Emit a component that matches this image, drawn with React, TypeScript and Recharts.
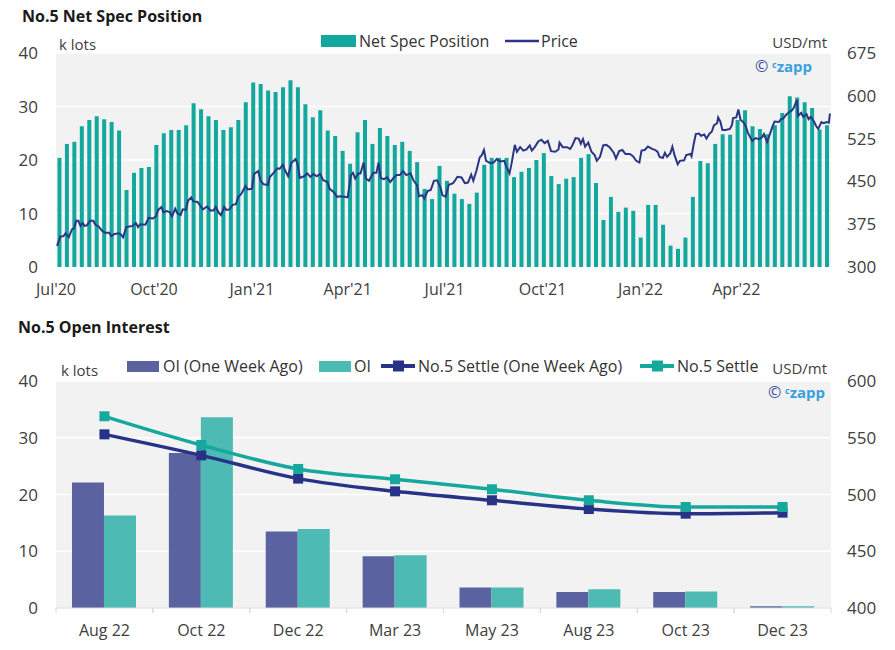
import { ComposedChart, Bar, Line, XAxis, YAxis, CartesianGrid } from "recharts"

// ---- No.5 Net Spec Position (weekly bars, k lots) ----
const netSpecPosition = [
  20.4, 23.0, 23.4, 26.3, 27.5, 28.2, 27.6, 27.1, 25.5, 14.4,
  17.6, 18.5, 18.7, 22.8, 25.0, 25.6, 25.6, 26.5, 30.6, 29.5,
  28.2, 27.5, 25.6, 26.1, 27.5, 30.8, 34.5, 34.2, 33.0, 32.7,
  33.6, 34.9, 33.6, 30.4, 28.0, 29.3, 25.5, 24.5, 21.7, 19.3,
  25.2, 27.5, 23.0, 26.0, 24.5, 22.8, 23.4, 21.7, 19.6, 14.6,
  12.7, 18.9, 16.1, 13.7, 12.7, 11.8, 13.9, 19.1, 20.4, 20.4,
  20.4, 16.8, 17.8, 18.5, 20.0, 21.3, 17.0, 15.5, 16.5, 16.8,
  20.4, 21.1, 15.7, 8.8, 13.1, 10.3, 11.1, 10.5, 5.5, 11.6,
  11.6, 7.9, 4.0, 3.4, 5.5, 13.1, 19.8, 19.4, 23.0, 24.8,
  24.7, 27.5, 29.3, 26.3, 25.8, 24.8, 26.5, 28.8, 31.9, 31.7,
  30.8, 29.7, 25.7, 26.5,
]
const firstReportDay = 3 // days after 1 Jul 2020

// price, days after 1 Jul 2020
const priceDays = [
  1, 4, 7, 9, 12, 15, 17, 19, 21, 23, 25, 27, 29, 32, 35, 37, 40, 43, 46, 50,
  52, 55, 59, 61, 63, 66, 69, 72, 75, 77, 79, 84, 87, 91, 94, 96, 99, 101, 104, 107,
  109, 112, 114, 117, 119, 122, 124, 127, 129, 133, 136, 138, 142, 145, 148, 150, 153, 155, 158, 160,
  163, 166, 169, 171, 174, 178, 180, 184, 186, 190, 192, 195, 199, 201, 204, 208, 210, 213, 215, 218,
  221, 225, 227, 229, 233, 236, 239, 242, 245, 248, 251, 255, 257, 261, 264, 267, 271, 274, 277, 279,
  281, 284, 286, 289, 291, 294, 298, 301, 303, 305, 308, 311, 314, 317, 320, 323, 326, 329, 333, 336,
  339, 341, 344, 346, 349, 352, 355, 358, 361, 363, 366, 369, 373, 375, 377, 381, 384, 387, 390, 392,
  395, 398, 400, 402, 404, 408, 411, 414, 417, 421, 423, 426, 428, 431, 433, 436, 439, 442, 445, 447,
  450, 453, 456, 459, 462, 465, 469, 472, 473, 476, 480, 483, 485, 488, 491, 493, 495, 497, 500, 503,
  506, 508, 511, 514, 517, 520, 524, 526, 529, 532, 535, 539, 542, 545, 548, 550, 553, 556, 560, 563,
  565, 567, 570, 572, 574, 577, 579, 581, 584, 586, 590, 592, 596, 597, 599, 601, 604, 606, 609, 611,
  614, 616, 618, 621, 622, 624, 626, 629, 633, 635, 636, 639, 641, 643, 646, 648, 650, 654, 657, 660,
  663, 665, 668, 671, 673, 675, 679, 681, 683, 686, 689, 691, 693, 696, 697, 700, 702, 705, 707, 709,
  712, 714, 716, 719, 721, 724, 726, 727,
]
const priceUsd = [
  337, 353, 354, 359, 352, 366, 368, 381, 381, 372, 377, 372, 373, 381, 381, 374, 371, 364, 360, 360,
  354, 358, 359, 357, 352, 370, 371, 372, 377, 370, 375, 374, 386, 385, 389, 400, 405, 396, 398, 396,
  389, 402, 394, 391, 401, 400, 416, 422, 415, 414, 406, 401, 406, 399, 399, 405, 395, 391, 405, 400,
  401, 409, 410, 422, 428, 442, 436, 437, 463, 468, 452, 445, 444, 458, 464, 473, 472, 479, 470, 459,
  482, 489, 480, 456, 459, 464, 458, 463, 459, 463, 452, 449, 437, 431, 423, 424, 423, 422, 461, 465,
  455, 464, 464, 483, 455, 451, 465, 465, 483, 456, 454, 457, 449, 456, 461, 461, 468, 461, 464, 451,
  444, 424, 426, 420, 433, 435, 451, 452, 440, 426, 423, 444, 447, 452, 458, 457, 447, 448, 462, 451,
  469, 492, 496, 505, 486, 482, 483, 489, 485, 486, 476, 464, 482, 514, 502, 510, 504, 506, 513, 504,
  511, 520, 523, 517, 521, 503, 502, 506, 518, 510, 510, 507, 513, 526, 525, 516, 524, 511, 518, 502,
  496, 486, 493, 513, 514, 510, 500, 490, 503, 505, 498, 498, 494, 486, 483, 504, 505, 511, 507, 505,
  502, 493, 491, 500, 493, 499, 511, 496, 480, 486, 487, 496, 498, 494, 515, 533, 534, 530, 532, 525,
  534, 537, 548, 552, 562, 555, 540, 540, 542, 549, 561, 562, 576, 558, 553, 546, 535, 521, 526, 524,
  527, 533, 519, 535, 546, 555, 554, 559, 560, 567, 572, 574, 579, 593, 565, 570, 563, 568, 559, 563,
  555, 547, 542, 554, 552, 554, 553, 569,
]

const quarterDays = [0, 92, 184, 274, 365, 457, 549, 639]
const quarterLabels = ["Jul'20", "Oct'20", "Jan'21", "Apr'21", "Jul'21", "Oct'21", "Jan'22", "Apr'22"]

// ---- No.5 Open Interest ----
const contracts = ["Aug 22", "Oct 22", "Dec 22", "Mar 23", "May 23", "Aug 23", "Oct 23", "Dec 23"]
const oiWeekAgo = [22.1, 27.3, 13.5, 9.1, 3.6, 2.8, 2.8, 0.3]
const oiNow = [16.3, 33.6, 13.9, 9.3, 3.6, 3.3, 2.9, 0.3]
const settleWeekAgo = [553, 534.5, 514, 502.8, 494.9, 487.2, 483.1, 484]
const settleNow = [568.9, 543.6, 522.5, 513.4, 504.6, 494.9, 489, 489]

const TEAL = "#13a89e"
const NAVY = "#2b3584"
const OI_OLD = "#5a63a0"
const OI_NEW = "#4dbbb3"
const SETTLE_OLD = "#283387"
const SETTLE_NEW = "#16a89d"
const TICK = "#404040"

const netSpecData = netSpecPosition.map((v, i) => ({ day: firstReportDay + i * 7, net: v }))
const priceData = priceDays.map((d, i) => ({ day: d, price: priceUsd[i] }))
const oiData = contracts.map((c, i) => ({
  contract: c,
  oiWeekAgo: oiWeekAgo[i],
  oi: oiNow[i],
  settleWeekAgo: settleWeekAgo[i],
  settle: settleNow[i],
}))

function ContractTick(props: any) {
  const { x, y, payload } = props
  const half = payload?.offset || 48.5
  return (
    <g>
      <line x1={x - half} x2={x - half} y1={y} y2={y + 5} stroke="#d9d9d9" />
      <line x1={x + half} x2={x + half} y1={y} y2={y + 5} stroke="#d9d9d9" />
      <text x={x} y={y + 28} textAnchor="middle" fill={TICK} fontSize={16}>
        {payload.value}
      </text>
    </g>
  )
}

const squareDot = (color: string) => (p: any) => {
  if (p.cx == null || p.cy == null) return <g key={p.index} />
  return <rect key={p.index} x={p.cx - 5} y={p.cy - 5} width={10} height={10} fill={color} />
}

function Czapp({ x, y }: { x: number; y: number }) {
  return (
    <g>
      <text x={x} y={y} fontSize={16} fill="#3b4aa0">©</text>
      <text x={x + 17} y={y} fontWeight={700} fill="#3a9fe0">
        <tspan fontSize={9} dy={-4}>c</tspan>
        <tspan fontSize={15} dy={4}>zapp</tspan>
      </text>
    </g>
  )
}

function LineIcon({ x, y, color, square }: { x: number; y: number; color: string; square?: boolean }) {
  return (
    <g>
      <line x1={x} x2={x + 34} y1={y} y2={y} stroke={color} strokeWidth={square ? 4 : 2.5} />
      {square && <rect x={x + 12} y={y - 5.5} width={11} height={11} fill={color} />}
    </g>
  )
}

export default function App() {
  return (
    <div
      style={{
        position: "absolute",
        left: 0,
        top: 0,
        width: 895,
        height: 650,
        background: "#fff",
        fontFamily: "'Open Sans', sans-serif",
      }}
    >
      <div style={{ position: "absolute", left: 0, top: 0 }}>
        <ComposedChart width={895} height={300} data={netSpecData} margin={{ top: 53, right: 0, bottom: 0, left: 0 }}>
          <CartesianGrid xAxisId="t" yAxisId="lots" vertical={false} stroke="#ffffff" strokeWidth={1.5} fill="#f2f2f2" />
          {/* hidden twin axis so the daily price points don't shrink the weekly bar band */}
          <XAxis xAxisId="p" type="number" dataKey="day" domain={[0, 728]} allowDataOverflow hide height={0} />
          <XAxis
            xAxisId="t"
            type="number"
            dataKey="day"
            domain={[0, 728]}
            allowDataOverflow
            ticks={quarterDays}
            interval={0}
            tickFormatter={(d: number) => quarterLabels[quarterDays.indexOf(d)] ?? ""}
            axisLine={false}
            tickLine={false}
            tickSize={0}
            tickMargin={17}
            height={33}
            tick={{ fill: TICK, fontSize: 16 }}
          />
          <YAxis
            yAxisId="lots"
            domain={[0, 40]}
            ticks={[0, 10, 20, 30, 40]}
            width={56}
            axisLine={false}
            tickLine={false}
            tickSize={0}
            tickMargin={18}
            tick={{ fill: TICK, fontSize: 17 }}
          />
          <YAxis
            yAxisId="usd"
            orientation="right"
            domain={[300, 675]}
            ticks={[300, 375, 450, 525, 600, 675]}
            width={64}
            axisLine={false}
            tickLine={false}
            tickSize={0}
            tickMargin={16}
            tick={{ fill: TICK, fontSize: 17, textAnchor: "start" }}
          />
          <Bar xAxisId="t" yAxisId="lots" dataKey="net" fill={TEAL} barSize={4} isAnimationActive={false} />
          <Line
            xAxisId="p"
            yAxisId="usd"
            data={priceData}
            dataKey="price"
            type="linear"
            stroke={NAVY}
            strokeWidth={2}
            dot={false}
            isAnimationActive={false}
          />
        </ComposedChart>
      </div>

      <div style={{ position: "absolute", left: 0, top: 300 }}>
        <ComposedChart
          width={895}
          height={350}
          data={oiData}
          margin={{ top: 81, right: 0, bottom: 0, left: 0 }}
          barCategoryGap="16.5%"
          barGap={0}
        >
          <CartesianGrid yAxisId="lots" vertical={false} stroke="#ffffff" strokeWidth={1.5} fill="#f2f2f2" />
          <XAxis
            dataKey="contract"
            axisLine={{ stroke: "#d9d9d9" }}
            tickLine={false}
            tickSize={0}
            tickMargin={0}
            height={42}
            interval={0}
            tick={<ContractTick />}
          />
          <YAxis
            yAxisId="lots"
            domain={[0, 40]}
            ticks={[0, 10, 20, 30, 40]}
            width={56}
            axisLine={false}
            tickLine={false}
            tickSize={0}
            tickMargin={18}
            tick={{ fill: TICK, fontSize: 17 }}
          />
          <YAxis
            yAxisId="usd"
            orientation="right"
            domain={[400, 600]}
            ticks={[400, 450, 500, 550, 600]}
            width={64}
            axisLine={false}
            tickLine={false}
            tickSize={0}
            tickMargin={16}
            tick={{ fill: TICK, fontSize: 17, textAnchor: "start" }}
          />
          <Bar yAxisId="lots" dataKey="oiWeekAgo" fill={OI_OLD} isAnimationActive={false} />
          <Bar yAxisId="lots" dataKey="oi" fill={OI_NEW} isAnimationActive={false} />
          <Line
            yAxisId="usd"
            dataKey="settleWeekAgo"
            type="monotone"
            stroke={SETTLE_OLD}
            strokeWidth={3.5}
            dot={squareDot(SETTLE_OLD)}
            activeDot={false}
            isAnimationActive={false}
          />
          <Line
            yAxisId="usd"
            dataKey="settle"
            type="monotone"
            stroke={SETTLE_NEW}
            strokeWidth={3.5}
            dot={squareDot(SETTLE_NEW)}
            activeDot={false}
            isAnimationActive={false}
          />
        </ComposedChart>
      </div>

      <svg
        width={895}
        height={650}
        style={{ position: "absolute", left: 0, top: 0, pointerEvents: "none" }}
      >
        <text x={22} y={22} fontSize={16} fontWeight={700} fill="#1a1a1a">No.5 Net Spec Position</text>
        <text x={59} y={50} fontSize={15} fill={TICK}>k lots</text>
        <text x={827} y={48} fontSize={15} fill={TICK} textAnchor="end">USD/mt</text>
        <rect x={321} y={35} width={35} height={12} fill={TEAL} />
        <text x={359} y={47} fontSize={16} fill="#333">Net Spec Position</text>
        <LineIcon x={505} y={41} color={NAVY} />
        <text x={541} y={47} fontSize={16} fill="#333">Price</text>
        <Czapp x={755} y={72} />

        <text x={18} y={333} fontSize={16} fontWeight={700} fill="#1a1a1a">No.5 Open Interest</text>
        <text x={61} y={376} fontSize={15} fill={TICK}>k lots</text>
        <text x={827} y={374} fontSize={15} fill={TICK} textAnchor="end">USD/mt</text>
        <rect x={127} y={361} width={32} height={11} fill={OI_OLD} />
        <text x={163} y={372} fontSize={16} fill="#333">OI (One Week Ago)</text>
        <rect x={319} y={361} width={32} height={11} fill={OI_NEW} />
        <text x={354} y={372} fontSize={16} fill="#333">OI</text>
        <LineIcon x={381} y={366} color={SETTLE_OLD} square />
        <text x={418} y={372} fontSize={16} fill="#333">No.5 Settle (One Week Ago)</text>
        <LineIcon x={640} y={366} color={SETTLE_NEW} square />
        <text x={677} y={372} fontSize={16} fill="#333">No.5 Settle</text>
        <Czapp x={768} y={398} />
      </svg>
    </div>
  )
}
